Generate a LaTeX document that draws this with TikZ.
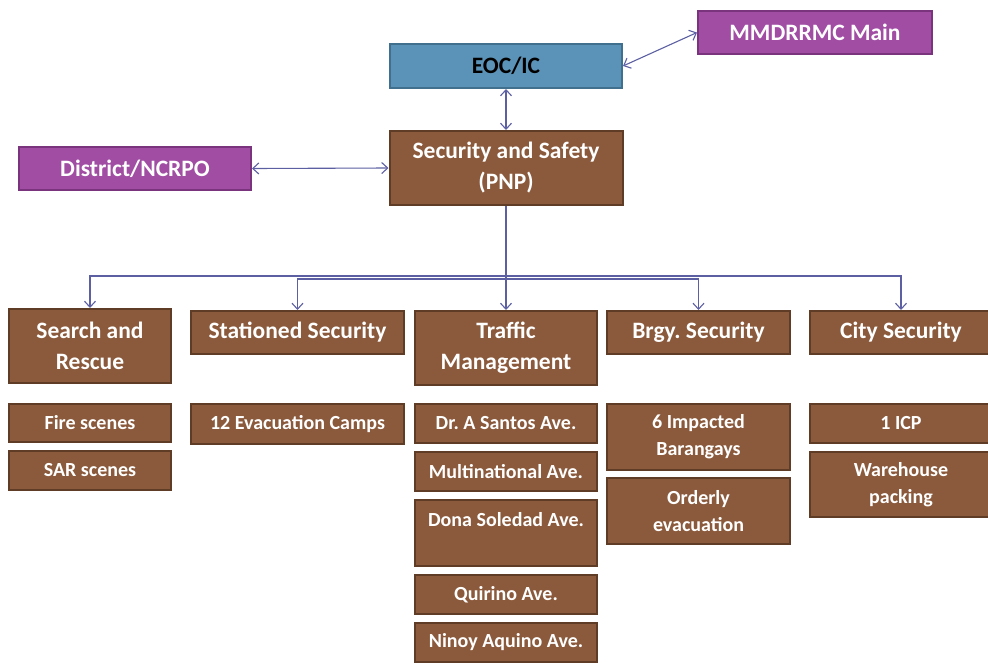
\documentclass[tikz,border=0pt]{standalone}
\usepackage{fontspec}
\setmainfont{Carlito}
\usetikzlibrary{arrows.meta}
\definecolor{brownfill}{RGB}{139,90,60}
\definecolor{brownline}{RGB}{94,60,38}
\definecolor{purplefill}{RGB}{160,77,163}
\definecolor{purpleline}{RGB}{122,52,126}
\definecolor{bluefill}{RGB}{91,147,184}
\definecolor{blueline}{RGB}{64,112,142}
\definecolor{linkblue}{RGB}{92,96,162}
\frenchspacing
\begin{document}
\begin{tikzpicture}[x=1pt,y=-1pt,
  box/.style={draw=brownline,fill=brownfill,line width=2pt,text=white,align=center,inner sep=0pt,
    font=\bfseries\fontsize{23.5}{31}\selectfont},
  subbox/.style={box,font=\bfseries\fontsize{20}{27}\selectfont},
  outer/.style={box,draw=purpleline,fill=purplefill},
  eocbox/.style={box,draw=blueline,fill=bluefill,text=black},
  link/.style={draw=linkblue,line width=1.1pt,-{Straight Barb[length=6pt,width=11pt]}},
  both/.style={link,{Straight Barb[length=6pt,width=11pt]}-{Straight Barb[length=6pt,width=11pt]}}]
\useasboundingbox[fill=white] (0,0) rectangle (988,662);
% top level
\node[outer,minimum width=234,minimum height=43] (mmdrrmc) at (815,32.5) {MMDRRMC Main};
\node[eocbox,minimum width=232,minimum height=44] (eoc) at (506,66) {EOC/IC};
\node[box,minimum width=233,minimum height=74] (pnp) at (506,168) {Security and Safety\\(PNP)};
\node[outer,minimum width=232,minimum height=43] (district) at (135,168.5) {District/NCRPO};
% second level
\node[box,minimum width=162,minimum height=74] (sar) at (90,346) {Search and\\Rescue};
\node[box,minimum width=213,minimum height=43] (stationed) at (297.5,332.5) {Stationed Security};
\node[box,minimum width=182,minimum height=74] (traffic) at (506,348) {Traffic\\Management};
\node[box,minimum width=183,minimum height=43] (brgy) at (698.5,332.5) {Brgy. Security};
\node[box,minimum width=182,minimum height=43] (city) at (901,332.5) {City Security};
% tasks
\node[subbox,minimum width=162,minimum height=38] (fire) at (90,423) {Fire scenes};
\node[subbox,minimum width=162,minimum height=39] (sarscenes) at (90,470.5) {SAR scenes};
\node[subbox,minimum width=213,minimum height=40] (camps) at (297.5,424) {12 Evacuation Camps};
\node[subbox,minimum width=182,minimum height=39] (santos) at (506,423.5) {Dr. A Santos Ave.};
\node[subbox,minimum width=182,minimum height=39] (multi) at (506,471.5) {Multinational Ave.};
\node[subbox,minimum width=182,minimum height=66] (dona) at (506,533) {Dona Soledad Ave.\\~};
\node[subbox,minimum width=182,minimum height=39] (quirino) at (506,594.5) {Quirino Ave.};
\node[subbox,minimum width=182,minimum height=39] (ninoy) at (506,642) {Ninoy Aquino Ave.};
\node[subbox,minimum width=183,minimum height=66] (impacted) at (698.5,437) {6 Impacted\\Barangays};
\node[subbox,minimum width=183,minimum height=66] (orderly) at (698.5,511) {Orderly\\evacuation};
\node[subbox,minimum width=182,minimum height=39] (icp) at (901,423.5) {1 ICP};
\node[subbox,minimum width=182,minimum height=65] (warehouse) at (901,484.5) {Warehouse\\packing};
% links
\draw[both] (eoc.east) -- (mmdrrmc.west);
\draw[both] (eoc.south) -- (pnp.north);
\draw[both] (district.east) -- (pnp.west);
\coordinate (busa) at (506,276);
\coordinate (busb) at (506,279);
\draw[link] (pnp.south) -- (busa) -| (sar.north);
\draw[link] (pnp.south) -- (busb) -| (stationed.north);
\draw[link] (pnp.south) -- (traffic.north);
\draw[link] (pnp.south) -- (busb) -| (brgy.north);
\draw[link] (pnp.south) -- (busa) -| (city.north);
\end{tikzpicture}
\end{document}
